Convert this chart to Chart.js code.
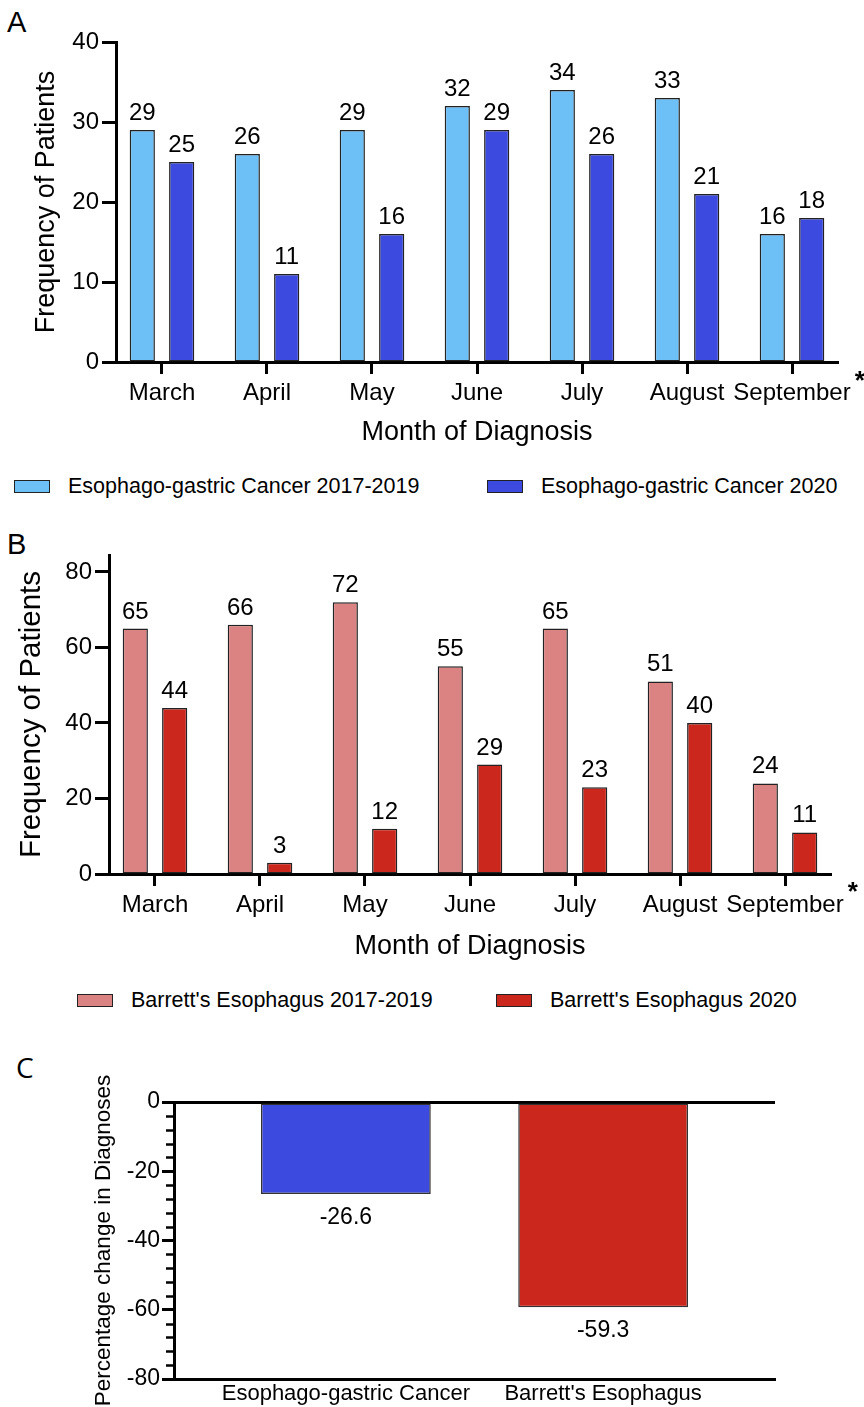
<!DOCTYPE html>
<html>
<head>
<meta charset="utf-8">
<script src="https://cdn.jsdelivr.net/npm/chart.js@4.4.1/dist/chart.umd.min.js"></script>
<style>
  body { margin: 0; background: #fff; }
  #page { position: relative; width: 864px; height: 1407px; background: #fff; font-family: "Liberation Sans", Arial, sans-serif; color: #000; }
  .panel { position: absolute; left: 0; width: 864px; }
  .tag { position: absolute; font-size: 29px; line-height: 1; }
  .legend { position: absolute; left: 0; width: 864px; height: 26px; font-size: 21.5px; }
  .legend .item { position: absolute; top: 0; display: flex; align-items: center; white-space: nowrap; height: 26px; }
  .legend .box { display: inline-block; width: 34px; height: 11px; border: 1.5px solid #222; margin-right: 18px; }
</style>
</head>
<body>
<div id="page">
  <div class="tag" style="left:7px;top:8px">A</div>
  <div class="panel" style="top:0;height:470px"><canvas id="chartA"></canvas></div>
  <div class="legend" id="legendA" style="top:473px"></div>

  <div class="tag" style="left:7px;top:530px">B</div>
  <div class="panel" style="top:520px;height:465px"><canvas id="chartB"></canvas></div>
  <div class="legend" id="legendB" style="top:987px"></div>

  <div class="tag" style="left:16px;top:1053px;font-family:'Open Sans',sans-serif;font-size:28px">C</div>
  <div class="panel" style="top:1040px;height:367px"><canvas id="chartC"></canvas></div>
</div>

<script>
Chart.defaults.font.family = '"Liberation Sans", Arial, sans-serif';
Chart.defaults.color = '#000';

// data
const months = ['March', 'April', 'May', 'June', 'July', 'August', 'September'];
const cancer2017 = [29, 26, 29, 32, 34, 33, 16];
const cancer2020 = [25, 11, 16, 29, 26, 21, 18];
const barretts2017 = [65, 66, 72, 55, 65, 51, 24];
const barretts2020 = [44, 3, 12, 29, 23, 40, 11];
const changeGroups = ['Esophago-gastric Cancer', "Barrett's Esophagus"];
const changeValues = [-26.6, -59.3];
const ticksA = [0, 10, 20, 30, 40];
const ticksB = [0, 20, 40, 60, 80];
const ticksC = [-80, -60, -40, -20, 0];

function points(values) {
  return values.map((v, i) => ({ x: i, y: v }));
}

// value labels above (or below) each bar
const valueLabels = {
  id: 'valueLabels',
  afterDatasetsDraw(chart, args, opts) {
    const ctx = chart.ctx;
    ctx.save();
    ctx.font = opts.size + 'px "Liberation Sans", Arial, sans-serif';
    ctx.fillStyle = '#000';
    ctx.textAlign = 'center';
    ctx.textBaseline = 'alphabetic';
    chart.data.datasets.forEach((ds, di) => {
      const meta = chart.getDatasetMeta(di);
      meta.data.forEach((bar, i) => {
        const v = ds.data[i].y;
        const y = v >= 0 ? bar.y - opts.above : bar.y + opts.below;
        ctx.fillText(v.toFixed(opts.decimals), bar.x, y);
      });
    });
    ctx.restore();
  }
};

// the asterisk after "September"
const asterisk = {
  id: 'asterisk',
  afterDraw(chart, args, opts) {
    const s = chart.scales.x;
    const ctx = chart.ctx;
    ctx.save();
    ctx.font = opts.size + 'px "Liberation Sans", Arial, sans-serif';
    const w = ctx.measureText(months[months.length - 1]).width;
    ctx.font = 'bold 26px "Liberation Sans", Arial, sans-serif';
    ctx.fillStyle = '#000';
    ctx.textAlign = 'left';
    ctx.textBaseline = 'middle';
    ctx.fillText('*', s.getPixelForValue(months.length - 1) + w / 2 + 4, s.top + opts.dy);
    ctx.restore();
  }
};

// minor ticks on the percentage axis
const minorTicks = {
  id: 'minorTicks',
  afterDraw(chart) {
    const s = chart.scales.y;
    const ctx = chart.ctx;
    ctx.save();
    ctx.strokeStyle = '#000';
    ctx.lineWidth = 2.5;
    for (let v = s.min; v < s.max; v += 4) {
      if (v % 20 === 0) continue;
      const y = Math.round(s.getPixelForValue(v)) + 0.5;
      ctx.beginPath();
      ctx.moveTo(s.right - 8, y);
      ctx.lineTo(s.right, y);
      ctx.stroke();
    }
    ctx.restore();
  }
};

function htmlLegend(chart, id, lefts) {
  const el = document.getElementById(id);
  el.innerHTML = '';
  chart.data.datasets.forEach((ds, i) => {
    const item = document.createElement('div');
    item.className = 'item';
    item.style.left = lefts[i] + 'px';
    const box = document.createElement('span');
    box.className = 'box';
    box.style.background = ds.backgroundColor;
    item.appendChild(box);
    item.appendChild(document.createTextNode(ds.label));
    el.appendChild(item);
  });
}

function monthAxis(tickSize, titleSize, titlePad, labelPad) {
  return {
    type: 'linear',
    bounds: 'data',
    offset: false,
    min: -0.438,
    max: 6.438,
    afterBuildTicks: s => { s.ticks = months.map((m, i) => ({ value: i })); },
    afterFit: s => { s.height = 100; },
    ticks: { callback: v => months[v], font: { size: tickSize }, padding: labelPad, autoSkip: false, maxRotation: 0 },
    grid: { offset: false, drawOnChartArea: false, drawTicks: true, tickLength: 12, tickWidth: 3, tickColor: '#000' },
    border: { color: '#000', width: 3 },
    title: { display: true, text: 'Month of Diagnosis', font: { size: titleSize }, padding: { bottom: titlePad } }
  };
}

function countAxis(max, tickList, width, tickSize, titleSize, titlePad) {
  return {
    min: 0,
    max: max,
    afterBuildTicks: s => { s.ticks = tickList.map(v => ({ value: v })); },
    afterFit: s => { s.width = width; },
    ticks: { font: { size: tickSize }, padding: 3 },
    grid: { drawOnChartArea: false, drawTicks: true, tickLength: 14, tickWidth: 3, tickColor: '#000' },
    border: { color: '#000', width: 3 },
    title: { display: true, text: 'Frequency of Patients', font: { size: titleSize }, padding: { top: titlePad } }
  };
}

const barStyle = { borderColor: '#222', borderWidth: 1.5, borderSkipped: false, categoryPercentage: 0.75, barPercentage: 0.64 };

const chartA = new Chart(document.getElementById('chartA'), {
  type: 'bar',
  data: {
    datasets: [
      Object.assign({ label: 'Esophago-gastric Cancer 2017-2019', data: points(cancer2017), backgroundColor: '#6CC0F6' }, barStyle),
      Object.assign({ label: 'Esophago-gastric Cancer 2020', data: points(cancer2020), backgroundColor: '#3D4AE0' }, barStyle),
    ],
  },
  options: {
    responsive: true,
    maintainAspectRatio: false,
    animation: false,
    layout: { padding: { top: 42, left: 0, right: 26, bottom: 8 } },
    scales: {
      x: monthAxis(24, 27, 13, 5),
      y: countAxis(40, ticksA, 116, 24, 27, 30),
    },
    plugins: {
      legend: { display: false },
      tooltip: { enabled: false },
      valueLabels: { size: 24, above: 10, below: 0, decimals: 0 },
      asterisk: { size: 24, dy: 20 },
    },
  },
  plugins: [valueLabels, asterisk],
});
htmlLegend(chartA, 'legendA', [14, 487]);

const chartB = new Chart(document.getElementById('chartB'), {
  type: 'bar',
  data: {
    datasets: [
      Object.assign({ label: "Barrett's Esophagus 2017-2019", data: points(barretts2017), backgroundColor: '#DB8382' }, barStyle),
      Object.assign({ label: "Barrett's Esophagus 2020", data: points(barretts2020), backgroundColor: '#CC271D' }, barStyle),
    ],
  },
  options: {
    responsive: true,
    maintainAspectRatio: false,
    animation: false,
    layout: { padding: { top: 35, left: 0, right: 33, bottom: 11 } },
    scales: {
      x: monthAxis(24, 27, 11, 5),
      y: countAxis(84.5, ticksB, 109, 24, 29.5, 14),
    },
    plugins: {
      legend: { display: false },
      tooltip: { enabled: false },
      valueLabels: { size: 24, above: 10, below: 0, decimals: 0 },
      asterisk: { size: 24, dy: 19 },
    },
  },
  plugins: [valueLabels, asterisk],
});
htmlLegend(chartB, 'legendB', [77, 496]);

new Chart(document.getElementById('chartC'), {
  type: 'bar',
  data: {
    datasets: [{
      label: 'Percentage change',
      data: points(changeValues),
      backgroundColor: ['#3D4AE0', '#CC271D'],
      borderColor: '#333',
      borderWidth: 1.5,
      borderSkipped: false,
      categoryPercentage: 1,
      barPercentage: 0.66,
    }],
  },
  options: {
    responsive: true,
    maintainAspectRatio: false,
    animation: false,
    layout: { padding: { top: 62, left: 0, right: 89, bottom: 0 } },
    scales: {
      x: {
        type: 'linear',
        bounds: 'data',
        offset: false,
        min: -0.668,
        max: 1.668,
        afterBuildTicks: s => { s.ticks = changeGroups.map((g, i) => ({ value: i })); },
        afterFit: s => { s.height = 28; },
        ticks: { callback: v => changeGroups[v], font: { size: 22 }, padding: 2, autoSkip: false, maxRotation: 0 },
        grid: { display: false, drawTicks: false, offset: false },
        border: { color: '#000', width: 3 },
      },
      y: {
        min: -80,
        max: 0,
        z: 1,
        afterBuildTicks: s => { s.ticks = ticksC.map(v => ({ value: v })); },
        afterFit: s => { s.width = 174; },
        ticks: { font: { size: 23 }, padding: 2 },
        grid: {
          drawOnChartArea: true,
          drawTicks: true,
          tickLength: 12,
          tickWidth: 3,
          tickColor: '#000',
          lineWidth: 3,
          color: c => (c.tick && c.tick.value === 0 ? '#000' : 'rgba(0,0,0,0)'),
        },
        border: { color: '#000', width: 3 },
        title: { display: true, text: 'Percentage change in Diagnoses', font: { size: 22.5 }, padding: { top: 90 } },
      },
    },
    plugins: {
      legend: { display: false },
      tooltip: { enabled: false },
      valueLabels: { size: 23, above: 10, below: 30, decimals: 1 },
    },
  },
  plugins: [valueLabels, minorTicks],
});
</script>
</body>
</html>
